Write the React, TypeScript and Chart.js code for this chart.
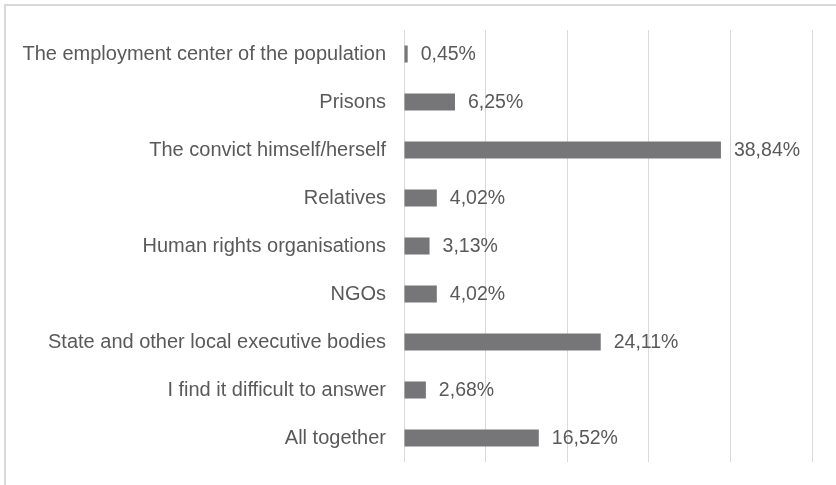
import React, { useEffect, useRef } from "react";
import { Chart, registerables } from "chart.js";

Chart.register(...registerables);

const categories = [
  "The employment center of the population",
  "Prisons",
  "The convict himself/herself",
  "Relatives",
  "Human rights organisations",
  "NGOs",
  "State and other local executive bodies",
  "I find it difficult to answer",
  "All together",
];
const values = [0.45, 6.25, 38.84, 4.02, 3.13, 4.02, 24.11, 2.68, 16.52];
const xMin = 0;
const xMax = 50;
const xStep = 10;

const BAR_COLOR = "#767679";
const TEXT_COLOR = "#595959";
const GRID_COLOR = "#d9d9d9";
const FONT_FAMILY = "'Liberation Sans', Arial, sans-serif";
const LABEL_SIZE = 20;
const VALUE_SIZE = 19.5;

const fmt = (v: number) => v.toFixed(2).replace(".", ",") + "%";

const valueLabels = {
  id: "valueLabels",
  afterDatasetsDraw(chart: any) {
    const ctx = chart.ctx;
    const meta = chart.getDatasetMeta(0);
    ctx.save();
    ctx.font = `${VALUE_SIZE}px ${FONT_FAMILY}`;
    ctx.fillStyle = TEXT_COLOR;
    ctx.textAlign = "left";
    ctx.textBaseline = "middle";
    meta.data.forEach((bar: any, i: number) => {
      ctx.fillText(fmt(values[i]), bar.x + 13, bar.y + 1);
    });
    ctx.restore();
  },
};

export default function App() {
  const canvasRef = useRef<HTMLCanvasElement | null>(null);

  useEffect(() => {
    if (!canvasRef.current) return;
    const chart = new Chart(canvasRef.current, {
      type: "bar",
      data: {
        labels: categories,
        datasets: [
          {
            data: values,
            backgroundColor: BAR_COLOR,
            borderWidth: 0,
            categoryPercentage: 1,
            barPercentage: 0.355,
          },
        ],
      },
      options: {
        indexAxis: "y",
        animation: false,
        responsive: false,
        maintainAspectRatio: false,
        layout: { padding: { top: 30, right: 24, bottom: 23, left: 0 } },
        plugins: {
          legend: { display: false },
          tooltip: { enabled: false },
          title: { display: false },
        },
        scales: {
          x: {
            min: xMin,
            max: xMax,
            ticks: { display: false, stepSize: xStep },
            grid: { color: GRID_COLOR, lineWidth: 1, drawTicks: false },
            border: { display: false },
            afterFit: (scale: any) => {
              scale.height = 0;
              scale.paddingLeft = 0;
              scale.paddingRight = 0;
            },
          },
          y: {
            ticks: {
              color: TEXT_COLOR,
              font: { family: FONT_FAMILY, size: LABEL_SIZE },
              padding: 18,
            },
            grid: { display: false, drawTicks: false },
            border: { display: false },
            afterFit: (scale: any) => {
              scale.width = 404;
              scale.paddingTop = 0;
              scale.paddingBottom = 0;
            },
          },
        },
      },
      plugins: [valueLabels],
    });
    return () => chart.destroy();
  }, []);

  return (
    <div
      style={{
        position: "absolute",
        left: 0,
        top: 0,
        width: 836,
        height: 485,
        background: "#ffffff",
      }}
    >
      <div
        style={{
          position: "absolute",
          left: 4,
          top: 4,
          right: 0,
          bottom: 0,
          borderTop: `2px solid ${GRID_COLOR}`,
          borderLeft: `2px solid ${GRID_COLOR}`,
        }}
      />
      <canvas
        ref={canvasRef}
        width={836}
        height={485}
        style={{ position: "absolute", left: 0, top: 0, width: 836, height: 485 }}
      />
    </div>
  );
}
